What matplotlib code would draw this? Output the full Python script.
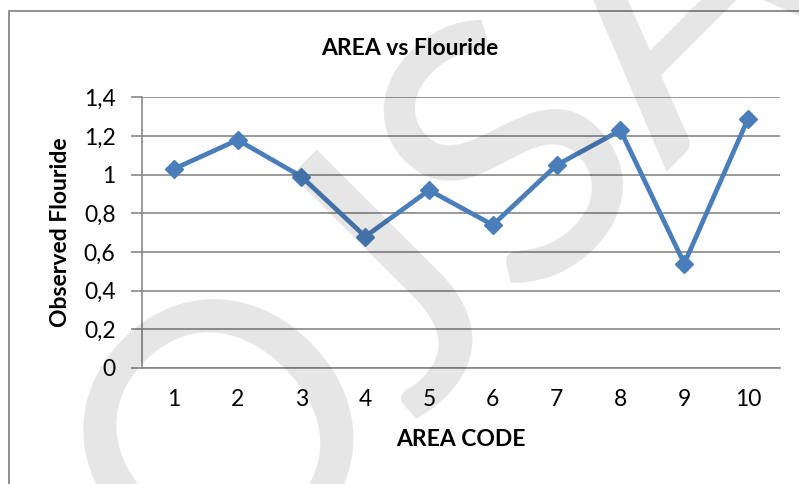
import matplotlib
matplotlib.use('Agg')
from matplotlib import pyplot as plt
from matplotlib.patches import Rectangle

# Data
area_codes = [1, 2, 3, 4, 5, 6, 7, 8, 9, 10]
flouride = [1.03, 1.18, 0.99, 0.68, 0.92, 0.74, 1.05, 1.23, 0.54, 1.29]
y_ticks = [0, 0.2, 0.4, 0.6, 0.8, 1.0, 1.2, 1.4]
y_tick_labels = ['0', '0,2', '0,4', '0,6', '0,8', '1', '1,2', '1,4']

plt.rcParams['font.family'] = ['Lato', 'DejaVu Sans']

fig = plt.figure(figsize=(7.99, 4.84), dpi=100)
ax = fig.add_axes([0.1777, 0.2397, 0.7985, 0.559])

line_color = '#4a7ebb'
grid_color = '#878787'

# Line with diamond markers
ax.plot(area_codes, flouride, color=line_color, lw=3.4, marker='D', ms=9.5,
        markeredgecolor=line_color, markerfacecolor=line_color, zorder=3)

ax.set_xlim(0.5, 10.5)
ax.set_ylim(0, 1.4)
ax.set_xticks(area_codes)
ax.set_xticklabels([str(c) for c in area_codes])
ax.set_yticks(y_ticks)
ax.set_yticklabels(y_tick_labels)

ax.grid(axis='y', color=grid_color, lw=1.2)
ax.set_axisbelow(True)
for side in ['top', 'right']:
    ax.spines[side].set_visible(False)
for side in ['left', 'bottom']:
    ax.spines[side].set_color(grid_color)
    ax.spines[side].set_linewidth(1.2)

ax.tick_params(axis='y', length=8, width=1.2, color=grid_color, labelsize=16.5, pad=11)
ax.tick_params(axis='x', length=0, labelsize=16.5, pad=15)

# Titles
fig.text(0.513, 0.899, 'AREA vs Flouride', ha='center', va='center',
         fontsize=16.5, fontweight='bold')
fig.text(0.577, 0.091, 'AREA CODE', ha='center', va='center',
         fontsize=16.5, fontweight='bold')
fig.text(0.076, 0.52, 'Observed Flouride', ha='center', va='center',
         fontsize=16.5, fontweight='bold', rotation=90)

# Chart frame (runs off the right and bottom edges)
fig.add_artist(Rectangle((0.0113, -0.2), 1.5, 0.977 + 0.2, transform=fig.transFigure,
                         fill=False, edgecolor=grid_color, lw=1.3))

# Watermark
fig.text(0.56, 0.53, 'OJSA', ha='center', va='center', rotation=45,
         fontsize=265, color='black', alpha=0.1, zorder=10)

fig.savefig('out.png', dpi=100)
